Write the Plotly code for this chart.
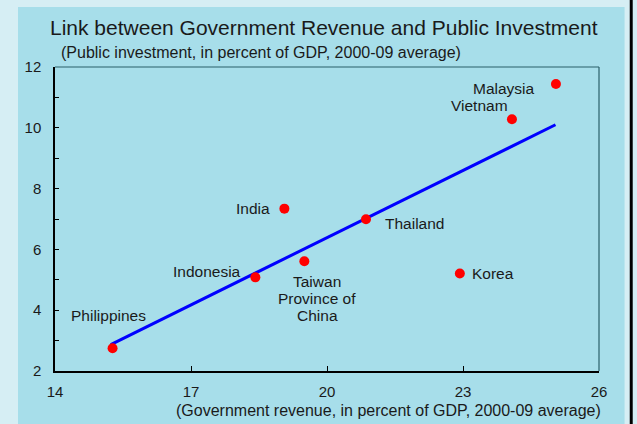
import plotly.graph_objects as go

# ---- data ----
countries = ["Philippines", "Indonesia", "India", "Taiwan Province of China",
             "Thailand", "Korea", "Vietnam", "Malaysia"]
gov_revenue = [15.27, 18.42, 19.06, 19.50, 20.86, 22.93, 24.08, 25.05]
public_invest = [2.75, 5.08, 7.34, 5.61, 6.99, 5.21, 10.28, 11.44]
trend_x = [15.23, 25.04]
trend_y = [2.87, 10.10]
x_ticks = [14, 17, 20, 23, 26]
y_ticks = [2, 4, 6, 8, 10, 12]

title_text = "Link between Government Revenue and Public Investment"
y_title_text = "(Public investment, in percent of GDP, 2000-09 average)"
x_title_text = "(Government revenue, in percent of GDP, 2000-09 average)"

# label placement: (text, x, y, xanchor)
labels = [
    ("Philippines", 15.17, 3.82, "center"),
    ("Indonesia", 18.14, 5.26, "right"),
    ("India", 18.79, 7.35, "right"),
    ("Taiwan", 19.78, 4.93, "center"),
    ("Province of", 19.78, 4.39, "center"),
    ("China", 19.78, 3.81, "center"),
    ("Thailand", 21.23, 6.84, "left"),
    ("Korea", 23.16, 5.20, "left"),
    ("Vietnam", 24.03, 10.74, "right"),
    ("Malaysia", 24.64, 11.30, "right"),
]

FONT = "Liberation Sans, Arial, sans-serif"
TXT = "#1a1a1a"
PANEL = "#a7deea"
OUTER = "#d6eef4"

fig = go.Figure()
fig.add_trace(go.Scatter(x=trend_x, y=trend_y, mode="lines",
                         line=dict(color="#0000ff", width=3), hoverinfo="skip"))
fig.add_trace(go.Scatter(x=gov_revenue, y=public_invest, mode="markers",
                         text=countries,
                         marker=dict(color="#ff0000", size=10, line=dict(width=0))))

for t, x, y, xa in labels:
    fig.add_annotation(x=x, y=y, text=t, showarrow=False, xanchor=xa,
                       yanchor="middle", font=dict(family=FONT, size=15.5, color=TXT))

fig.add_annotation(xref="paper", yref="paper", x=0.495, y=1.13, text=title_text,
                   showarrow=False, xanchor="center", yanchor="middle",
                   font=dict(family=FONT, size=21, color=TXT))
fig.add_annotation(xref="paper", yref="paper", x=0.008, y=1.049, text=y_title_text,
                   showarrow=False, xanchor="left", yanchor="middle",
                   font=dict(family=FONT, size=16, color=TXT))
fig.add_annotation(xref="paper", yref="paper", x=1.008, y=-0.131, text=x_title_text,
                   showarrow=False, xanchor="right", yanchor="middle",
                   font=dict(family=FONT, size=16, color=TXT))

# panel background, right edge strip, frame top/right
fig.add_shape(type="rect", xref="paper", yref="paper", x0=-0.068, x1=1.047,
              y0=-0.2, y1=1.197, fillcolor=PANEL, line=dict(width=0), layer="below")
fig.add_shape(type="rect", xref="paper", yref="paper", x0=1.0565, x1=1.062,
              y0=-0.2, y1=1.25, fillcolor="#000000", line=dict(width=0), layer="below")
fig.add_shape(type="line", xref="paper", yref="paper", x0=0, x1=1, y0=1, y1=1,
              line=dict(color="#2b5f69", width=1.2))
fig.add_shape(type="line", xref="paper", yref="paper", x0=1, x1=1, y0=0, y1=1,
              line=dict(color="#2b5f69", width=1.2))

fig.update_layout(
    width=637, height=424,
    margin=dict(l=55, r=38, t=67, b=53),
    paper_bgcolor=OUTER, plot_bgcolor=PANEL,
    showlegend=False,
    font=dict(family=FONT, size=15, color=TXT),
)
fig.update_xaxes(range=[14, 26], tickvals=x_ticks, ticks="inside", ticklen=5,
                 tickcolor="#000000", showline=True, linecolor="#000000", linewidth=1.5,
                 showgrid=False, zeroline=False, ticklabelstandoff=6,
                 tickfont=dict(family=FONT, size=15, color=TXT))
fig.update_yaxes(range=[2, 12], tickvals=y_ticks, ticks="inside", ticklen=4,
                 tickcolor="#000000", showline=True, linecolor="#000000", linewidth=1.5,
                 showgrid=False, zeroline=False, ticklabelstandoff=9,
                 minor=dict(dtick=1, ticks="inside", ticklen=4, tickcolor="#000000"),
                 tickfont=dict(family=FONT, size=15, color=TXT))

fig.write_html("out.html", config={"displayModeBar": False},
               post_script="document.body.style.margin='0';"
                           "document.body.style.background='" + OUTER + "';")
